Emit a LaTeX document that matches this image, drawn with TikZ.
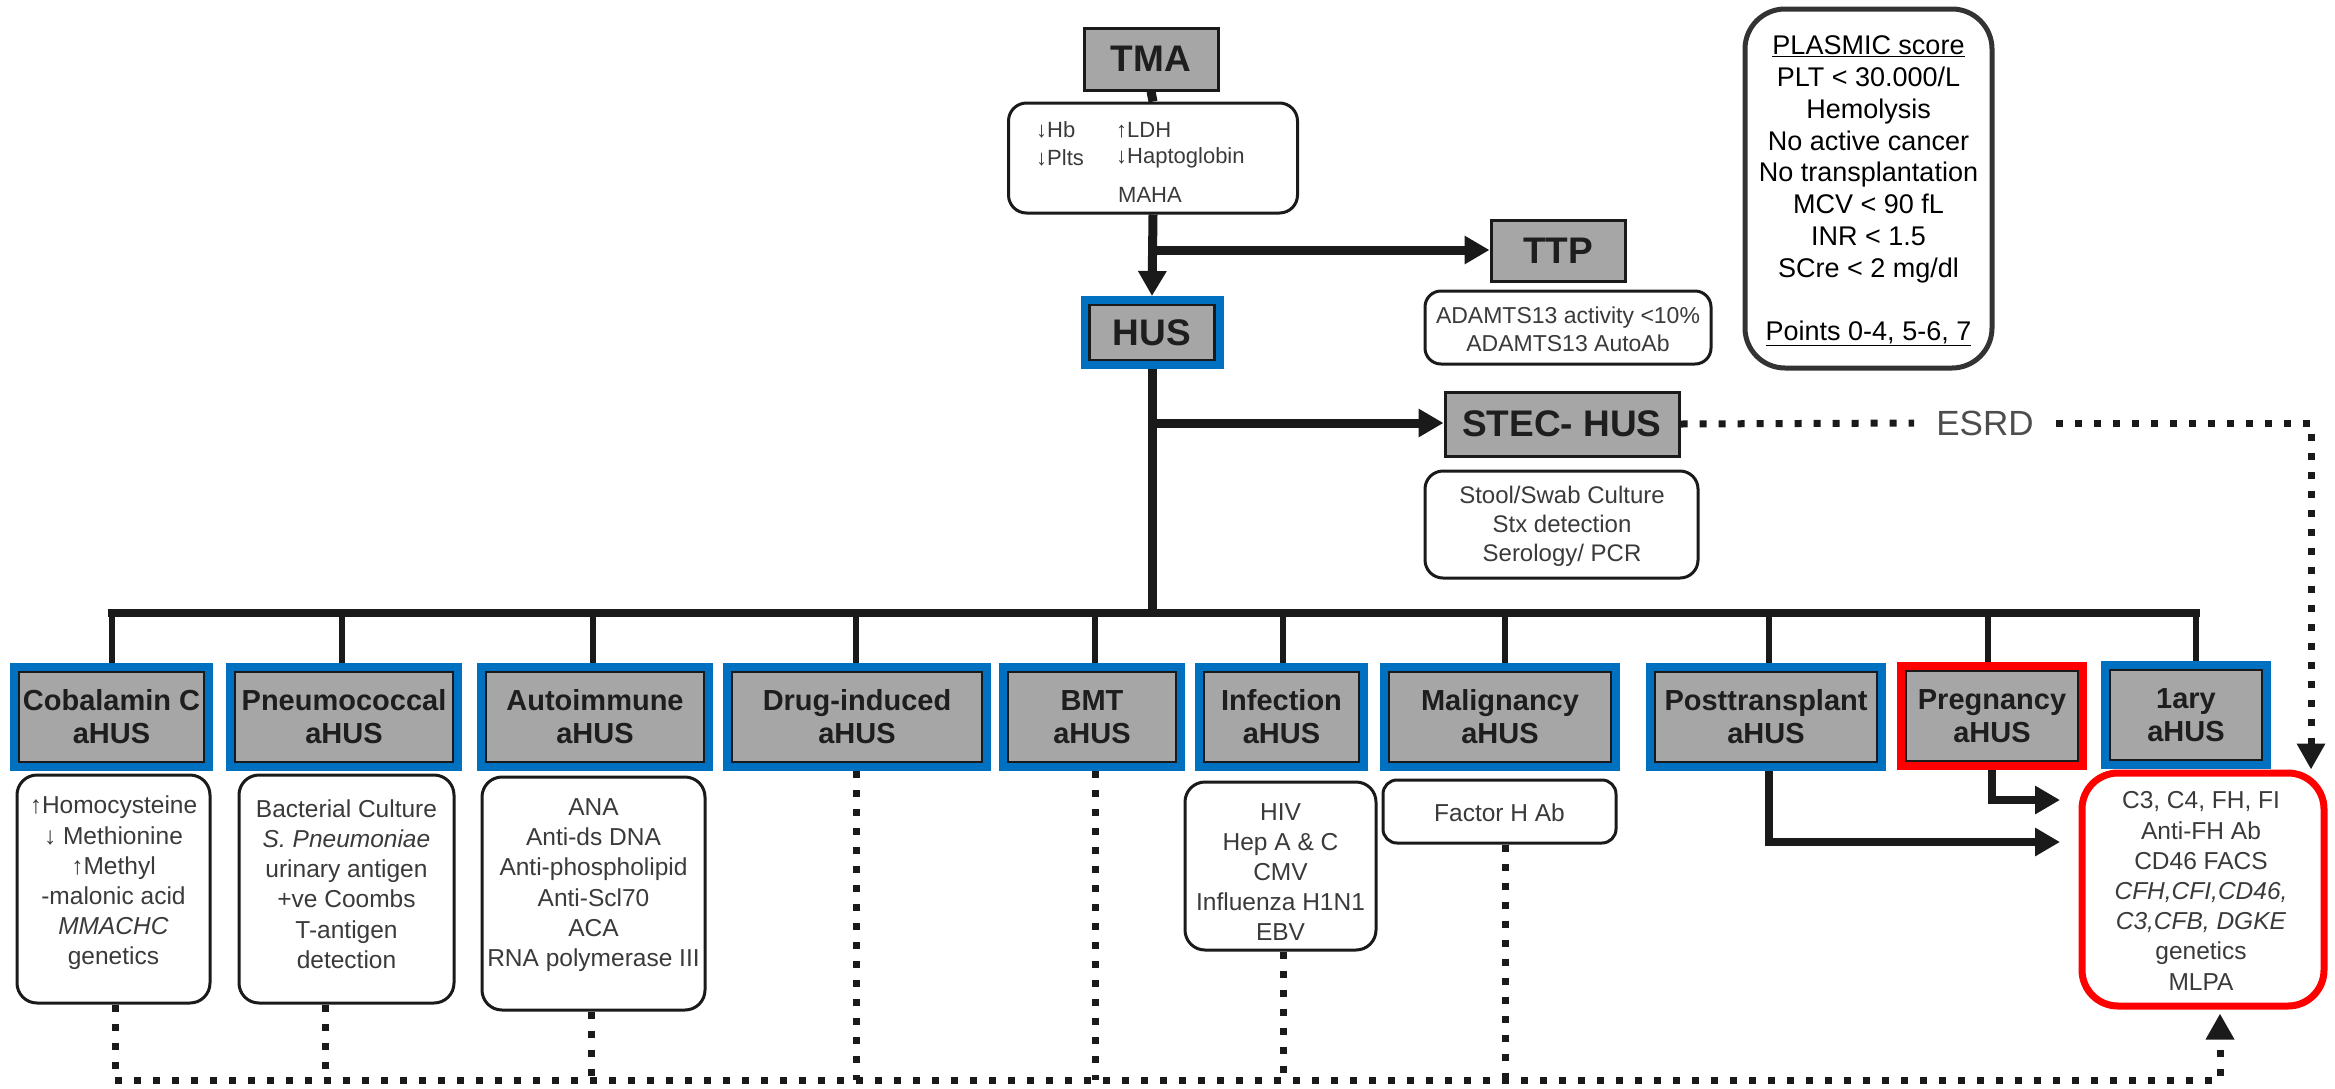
\documentclass[tikz,border=0pt]{standalone}
\usepackage{fontspec}
\setmainfont{Liberation Sans}
\usetikzlibrary{arrows.meta}
\definecolor{boxgray}{RGB}{166,166,166}
\definecolor{hdrblue}{RGB}{0,112,192}
\definecolor{framered}{RGB}{255,0,0}
\definecolor{linec}{RGB}{26,26,26}
\definecolor{hdrtext}{RGB}{30,30,30}
\definecolor{dettext}{RGB}{58,58,58}
\definecolor{esrdcol}{RGB}{77,77,77}
\definecolor{plascol}{RGB}{51,51,51}
\begin{document}
\begin{tikzpicture}[x=1pt,y=-1pt,
  topbox/.style={rectangle, fill=boxgray, draw=linec, line width=3pt, inner sep=0pt,
    font=\bfseries\fontsize{37}{40}\selectfont, text=hdrtext},
  hdr/.style={rectangle, fill=boxgray, draw=linec, line width=2.5pt, inner sep=0pt,
    minimum height=90pt, align=center, font=\bfseries\fontsize{29}{33}\selectfont, text=hdrtext},
  bluefr/.style={preaction={draw=hdrblue, line width=18pt, line join=miter}, outer sep=9pt},
  redfr/.style={preaction={draw=framered, line width=18pt, line join=miter}, outer sep=9pt},
  detbox/.style={rectangle, rounded corners=20pt, fill=white, draw=linec, line width=3pt, inner sep=0pt},
  dettext/.style={inner sep=0pt, align=center, text=dettext, font=\fontsize{24.5}{30.2}\selectfont},
  mtext/.style={inner sep=0pt, text=dettext, font=\fontsize{22}{26}\selectfont},
  arr/.style={draw=linec, line width=9pt, -{Triangle[length=25pt,width=27pt]}},
  conn/.style={draw=linec, line width=9pt},
  busline/.style={draw=linec, line width=8pt, line cap=rect},
  stub/.style={draw=linec, line width=6.5pt},
  dotl/.style={draw=linec, line width=7pt, dash pattern=on 7pt off 12pt, line join=miter},
  dotarr/.style={dotl, -{Triangle[length=26pt,width=27pt]}}
]
\useasboundingbox[fill=white] (0,0) rectangle (2335,1088);

% ---------- top part ----------
\node[topbox, minimum width=134pt, minimum height=62pt] (tma) at (1151,59) {TMA};
\node[detbox, rounded corners=18pt, minimum width=289pt, minimum height=110pt] (maha) at (1153,158) {};
\node[mtext, anchor=west] (hb) at (1036,130) {↓Hb};
\node[mtext, anchor=west] (ldh) at (1116,130) {↑LDH};
\node[mtext, anchor=west] (plts) at (1036,158) {↓Plts};
\node[mtext, anchor=west] (hapto) at (1116,158) {↓Haptoglobin};
\node[mtext] (mahat) at (1150,195) {MAHA};

\node[topbox, bluefr, line width=2.5pt, minimum width=125pt, minimum height=55pt] (hus) at (1152,332.5) {HUS};

\node[topbox, minimum width=134pt, minimum height=61pt] (ttp) at (1558,250.5) {TTP};
\node[detbox, rounded corners=16pt, minimum width=286pt, minimum height=73pt] (ttpd) at (1568,327.5) {};
\node[dettext, font=\fontsize{23}{28}\selectfont] (ttpt) at (1568,329) {ADAMTS13 activity <10\%\\ADAMTS13 AutoAb};

\node[rectangle, rounded corners=40pt, draw=plascol, line width=5pt, fill=white,
  minimum width=247pt, minimum height=359pt] (plas) at (1868.5,188.5) {};
\node[inner sep=0pt, align=center, font=\fontsize{27}{31.8}\selectfont] (plast) at (1868.5,191)
  {\underline{PLASMIC score}\\PLT < 30.000/L\\Hemolysis\\No active cancer\\No transplantation\\MCV < 90 fL\\INR < 1.5\\SCre < 2 mg/dl\\[31.8pt]\underline{Points 0-4, 5-6, 7}};

\node[topbox, minimum width=234pt, minimum height=64pt] (stec) at (1562,424) {STEC- HUS};
\node[detbox, rounded corners=18pt, minimum width=273pt, minimum height=107pt] (stecd) at (1561.5,524.5) {};
\node[dettext, font=\fontsize{24}{29}\selectfont] (stect) at (1562,526) {Stool/Swab Culture\\Stx detection\\Serology/ PCR};

\node[inner xsep=22pt, inner ysep=0pt, text=esrdcol, font=\fontsize{35}{38}\selectfont] (esrd) at (1985,423) {ESRD};

% ---------- connectors top ----------
\draw[conn] (tma.south) -- (maha.north);
\draw[arr] (maha.south) -- (hus.north);
\coordinate (j1) at (1152,250);
\draw[arr] (j1) -- (j1 -| ttp.west);
\coordinate (j2) at (1152,423);
\coordinate (busC) at (1152,613);
\draw[conn] (hus.south) -- (busC);
\draw[arr] (j2) -- (j2 -| stec.west);

% ---------- row of aHUS boxes ----------
\node[hdr, bluefr, minimum width=185pt] (cob) at (111.5,717) {Cobalamin C\\aHUS};
\node[hdr, bluefr, minimum width=218pt] (pne) at (344,717) {Pneumococcal\\aHUS};
\node[hdr, bluefr, minimum width=218pt] (aut) at (595,717) {Autoimmune\\aHUS};
\node[hdr, bluefr, minimum width=250pt] (drug) at (857,717) {Drug-induced\\aHUS};
\node[hdr, bluefr, minimum width=168pt] (bmt) at (1092,717) {BMT\\aHUS};
\node[hdr, bluefr, minimum width=155pt] (inf) at (1281.5,717) {Infection\\aHUS};
\node[hdr, bluefr, minimum width=222pt] (mal) at (1500,717) {Malignancy\\aHUS};
\node[hdr, bluefr, minimum width=222pt] (post) at (1766,717) {Posttransplant\\aHUS};
\node[hdr, redfr, minimum width=172pt] (preg) at (1992,716) {Pregnancy\\aHUS};
\node[hdr, bluefr, minimum width=152pt] (ary) at (2186,715) {1ary\\aHUS};

% bus and stubs
\coordinate (s1) at (112,613);
\coordinate (s2) at (342,613);
\coordinate (s3) at (593,613);
\coordinate (s4) at (856,613);
\coordinate (s5) at (1095,613);
\coordinate (s6) at (1283,613);
\coordinate (s7) at (1505,613);
\coordinate (s8) at (1769,613);
\coordinate (s9) at (1988,613);
\coordinate (s10) at (2196,613);
\draw[stub] (s1) -- (s1 |- cob.north);
\draw[stub] (s2) -- (s2 |- pne.north);
\draw[stub] (s3) -- (s3 |- aut.north);
\draw[stub] (s4) -- (s4 |- drug.north);
\draw[stub] (s5) -- (s5 |- bmt.north);
\draw[stub] (s6) -- (s6 |- inf.north);
\draw[stub] (s7) -- (s7 |- mal.north);
\draw[stub] (s8) -- (s8 |- post.north);
\draw[stub] (s9) -- (s9 |- preg.north);
\draw[stub] (s10) -- (s10 |- ary.north);
\draw[busline] (s1) -- (s10);

% ---------- detail boxes ----------
\node[detbox, minimum width=193pt, minimum height=228pt] (cobd) at (113.5,889) {};
\node[dettext] (cobt) at (113.5,883) {↑Homocysteine\\↓ Methionine\\↑Methyl\\-malonic acid\\\textit{MMACHC}\\genetics};
\node[detbox, minimum width=215pt, minimum height=228pt] (pned) at (346.5,889) {};
\node[dettext] (pnet) at (346.5,884) {Bacterial Culture\\\textit{S. Pneumoniae}\\urinary antigen\\+ve Coombs\\T-antigen\\detection};
\node[detbox, minimum width=223pt, minimum height=233pt] (autd) at (593.5,893.5) {};
\node[dettext] (autt) at (593.5,885) {ANA\\Anti-ds DNA\\Anti-phospholipid\\Anti-Scl70\\ACA\\RNA polymerase III};
\node[detbox, minimum width=191pt, minimum height=168pt] (infd) at (1280.5,866) {};
\node[dettext] (inft) at (1280.5,872) {HIV\\Hep A \& C\\CMV\\Influenza H1N1\\EBV};
\node[detbox, rounded corners=14pt, minimum width=233pt, minimum height=63pt] (mald) at (1499.5,811.5) {};
\node[dettext] (malt) at (1499.5,813) {Factor H Ab};
\node[rectangle, rounded corners=36pt, draw=framered, line width=7pt, fill=white,
  minimum width=242pt, minimum height=233pt] (red) at (2203,889.5) {};
\node[dettext] (redt) at (2201,891) {C3, C4, FH, FI\\Anti-FH Ab\\CD46 FACS\\\textit{CFH,CFI,CD46,}\\\textit{C3,CFB, DGKE}\\genetics\\MLPA};

% ---------- arrows into red box ----------
\coordinate (pa) at (2060,800);
\coordinate (qa) at (2060,842);
\draw[arr, line width=8pt] (preg.south) |- (pa);
\draw[arr, line width=8pt] (post.south -| s8) |- (qa);

% ---------- dotted connectors ----------
\coordinate (esrdR) at (2311,423);
\draw[dotl] (stec.east) -- (esrd.west);
\draw[dotarr] (esrd.east) -- (esrdR) -- (esrdR |- red.north);

\coordinate (d1) at (115,1080);
\coordinate (d2) at (325,1080);
\coordinate (d3) at (591,1080);
\coordinate (d4) at (856,1080);
\coordinate (d5) at (1095,1080);
\coordinate (d6) at (1283,1080);
\coordinate (d7) at (1505,1080);
\coordinate (dE) at (2220,1080);
\draw[dotl] (cobd.south -| d1) -- (d1);
\draw[dotl] (pned.south -| d2) -- (d2);
\draw[dotl] (autd.south -| d3) -- (d3);
\draw[dotl] (drug.south -| d4) -- (d4);
\draw[dotl] (bmt.south -| d5) -- (d5);
\draw[dotl] (infd.south -| d6) -- (d6);
\draw[dotl] (mald.south -| d7) -- (d7);
\draw[dotarr] (d1) -- (dE) -- ([yshift=-4pt]dE |- red.south);
\end{tikzpicture}
\end{document}
